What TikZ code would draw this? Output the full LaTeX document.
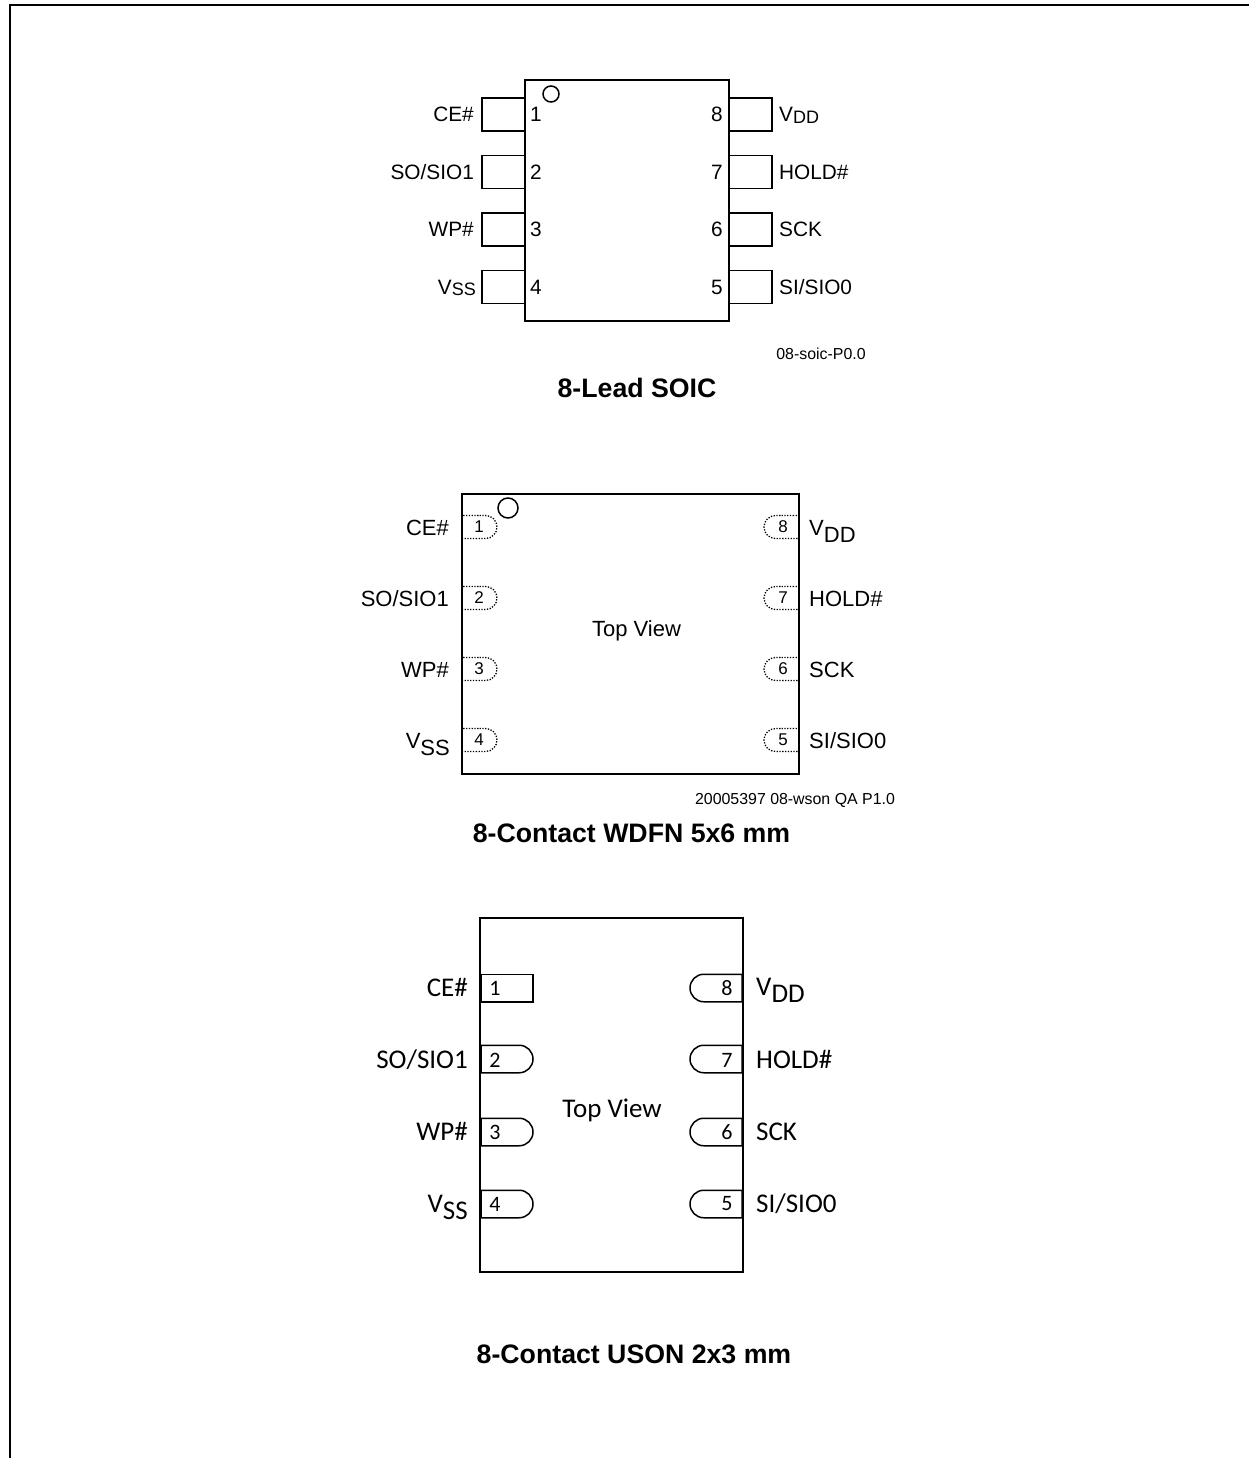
\documentclass[tikz,border=0pt]{standalone}
\usepackage{fontspec}
\setmainfont{Liberation Sans}
\newfontfamily\usonfont{Carlito}
\usetikzlibrary{shapes.misc}
\newcommand{\lowtext}[1]{\raisebox{-7pt}{#1}}
\newcommand{\soiclow}[1]{\raisebox{-1.5pt}{\fontsize{18}{20}\selectfont #1}}
\begin{document}
\begin{tikzpicture}[
	x=1pt,
	y=-1pt,
	body/.style={
		rectangle,
		draw=black,
		line width=1.8pt,
		inner sep=0pt,
	},
	soicpin/.style={
		rectangle,
		draw=black,
		line width=1.8pt,
		inner sep=0pt,
		minimum width=43pt,
		minimum height=33pt,
	},
	wleft/.style={
		rounded rectangle,
		rounded rectangle left arc=none,
		draw=black,
		dash pattern=on 1.3pt off 1.5pt,
		line width=1.3pt,
		inner sep=0pt,
		minimum width=35pt,
		minimum height=23pt,
	},
	wright/.style={
		rounded rectangle,
		rounded rectangle right arc=none,
		draw=black,
		dash pattern=on 1.3pt off 1.5pt,
		line width=1.3pt,
		inner sep=0pt,
		minimum width=35pt,
		minimum height=23pt,
	},
	uleft/.style={
		rounded rectangle,
		rounded rectangle left arc=none,
		draw=black,
		line width=1.5pt,
		inner sep=0pt,
		minimum width=52pt,
		minimum height=27.5pt,
	},
	uright/.style={
		rounded rectangle,
		rounded rectangle right arc=none,
		draw=black,
		line width=1.5pt,
		inner sep=0pt,
		minimum width=52pt,
		minimum height=27.5pt,
	},
	dot/.style={circle,draw=black,line width=1.5pt,inner sep=0pt},
	soictext/.style={inner sep=0pt,font=\fontsize{20.8}{24}\selectfont},
	wtext/.style={inner sep=0pt,font=\fontsize{22}{26}\selectfont},
	wnum/.style={inner sep=0pt,font=\fontsize{17}{20}\selectfont},
	utext/.style={inner sep=0pt,font=\usonfont\fontsize{27}{30}\selectfont},
	unum/.style={inner sep=0pt,font=\usonfont\fontsize{22}{26}\selectfont},
	title/.style={inner sep=0pt,font=\bfseries\fontsize{26.7}{30}\selectfont},
	tag/.style={inner sep=0pt,font=\fontsize{15.9}{18}\selectfont},
]
\useasboundingbox (0,0) rectangle (1249,1458);

\coordinate (fa) at (10,1458);
\coordinate (fc) at (1249,5);
\draw[line width=2pt] (fa) |- (fc);

% SOIC
\node[soicpin] (sp1) at (503.5,114.5) {};
\node[soicpin] (sp2) at (503.5,172) {};
\node[soicpin] (sp3) at (503.5,229.5) {};
\node[soicpin] (sp4) at (503.5,287) {};
\node[soicpin] (sp8) at (750.5,114.5) {};
\node[soicpin] (sp7) at (750.5,172) {};
\node[soicpin] (sp6) at (750.5,229.5) {};
\node[soicpin] (sp5) at (750.5,287) {};
\node[body,minimum width=204pt,minimum height=241pt] (soic) at (627,200.5) {};
\node[dot,minimum size=16pt] (sdot) at (551,94) {};

\node[soictext,anchor=base] (sn1) at (536,122) {1};
\node[soictext,anchor=base] (sn2) at (536,179) {2};
\node[soictext,anchor=base] (sn3) at (536,236.5) {3};
\node[soictext,anchor=base] (sn4) at (536,294) {4};
\node[soictext,anchor=base] (sn8) at (717,122) {8};
\node[soictext,anchor=base] (sn7) at (717,179) {7};
\node[soictext,anchor=base] (sn6) at (717,236.5) {6};
\node[soictext,anchor=base] (sn5) at (717,294) {5};

\node[soictext,anchor=base east] (sl1) at (474,122) {CE\#};
\node[soictext,anchor=base east] (sl2) at (474,179) {SO/SIO1};
\node[soictext,anchor=base east] (sl3) at (474,236.5) {WP\#};
\node[soictext,anchor=base east] (sl4) at (476,294) {V\soiclow{SS}};
\node[soictext,anchor=base west] (sl8) at (779,122) {V\soiclow{DD}};
\node[soictext,anchor=base west] (sl7) at (779,179) {HOLD\#};
\node[soictext,anchor=base west] (sl6) at (779,236.5) {SCK};
\node[soictext,anchor=base west] (sl5) at (779,294) {SI/SIO0};

\node[tag] (stag) at (821,354) {08-soic-P0.0};
\node[title] (stitle) at (637,388) {8-Lead SOIC};

% WDFN
\node[wleft] (wp1) at (479.5,527) {};
\node[wleft] (wp2) at (479.5,598) {};
\node[wleft] (wp3) at (479.5,669) {};
\node[wleft] (wp4) at (479.5,740) {};
\node[wright] (wp8) at (781.5,527) {};
\node[wright] (wp7) at (781.5,598) {};
\node[wright] (wp6) at (781.5,669) {};
\node[wright] (wp5) at (781.5,740) {};
\node[body,minimum width=337pt,minimum height=280pt] (wdfn) at (630.5,634) {};
\node[dot,minimum size=20pt] (wdot) at (508,508) {};

\node[wnum] (wn1) at (479,527) {1};
\node[wnum] (wn2) at (479,598) {2};
\node[wnum] (wn3) at (479,669) {3};
\node[wnum] (wn4) at (479,740) {4};
\node[wnum] (wn8) at (783,527) {8};
\node[wnum] (wn7) at (783,598) {7};
\node[wnum] (wn6) at (783,669) {6};
\node[wnum] (wn5) at (783,740) {5};

\node[wtext,anchor=base east] (wl1) at (449,535) {CE\#};
\node[wtext,anchor=base east] (wl2) at (449,606) {SO/SIO1};
\node[wtext,anchor=base east] (wl3) at (449,677) {WP\#};
\node[wtext,anchor=base east] (wl4) at (450,748) {V\lowtext{SS}};
\node[wtext,anchor=base west] (wl8) at (809,535) {V\lowtext{DD}};
\node[wtext,anchor=base west] (wl7) at (809,606) {HOLD\#};
\node[wtext,anchor=base west] (wl6) at (809,677) {SCK};
\node[wtext,anchor=base west] (wl5) at (809,748) {SI/SIO0};

\node[wtext,anchor=base] (wview) at (636.5,636) {Top View};
\node[tag] (wtag) at (795,800) {20005397 08-wson QA P1.0};
\node[title] (wtitle) at (631.5,833) {8-Contact WDFN 5x6 mm};

% USON
\node[rectangle,draw=black,line width=1.5pt,inner sep=0pt,minimum width=52pt,minimum height=27.5pt] (up1) at (507,988) {};
\node[uleft] (up2) at (507,1059) {};
\node[uleft] (up3) at (507,1132) {};
\node[uleft] (up4) at (507,1204) {};
\node[uright] (up8) at (716,988) {};
\node[uright] (up7) at (716,1059) {};
\node[uright] (up6) at (716,1132) {};
\node[uright] (up5) at (716,1204) {};
\node[draw=black,line width=2.8pt,inner sep=0pt,minimum width=263pt,minimum height=354pt] (uson) at (611.5,1095) {};

\node[unum] (un1) at (495,988) {1};
\node[unum] (un2) at (495,1060) {2};
\node[unum] (un3) at (495,1132) {3};
\node[unum] (un4) at (495,1204) {4};
\node[unum] (un8) at (727,988) {8};
\node[unum] (un7) at (727,1060) {7};
\node[unum] (un6) at (727,1132) {6};
\node[unum] (un5) at (727,1204) {5};

\node[utext,anchor=base east] (ul1) at (468,996) {CE\#};
\node[utext,anchor=base east] (ul2) at (468,1068) {SO/SIO1};
\node[utext,anchor=base east] (ul3) at (468,1140) {WP\#};
\node[utext,anchor=base east] (ul4) at (468,1212) {V\lowtext{SS}};
\node[utext,anchor=base west] (ul8) at (756,995) {V\lowtext{DD}};
\node[utext,anchor=base west] (ul7) at (756,1068) {HOLD\#};
\node[utext,anchor=base west] (ul6) at (756,1140) {SCK};
\node[utext,anchor=base west] (ul5) at (756,1212) {SI/SIO0};

\node[utext,anchor=base] (uview) at (612,1117) {Top View};
\node[title] (utitle) at (634,1354) {8-Contact USON 2x3 mm};

\end{tikzpicture}
\end{document}
